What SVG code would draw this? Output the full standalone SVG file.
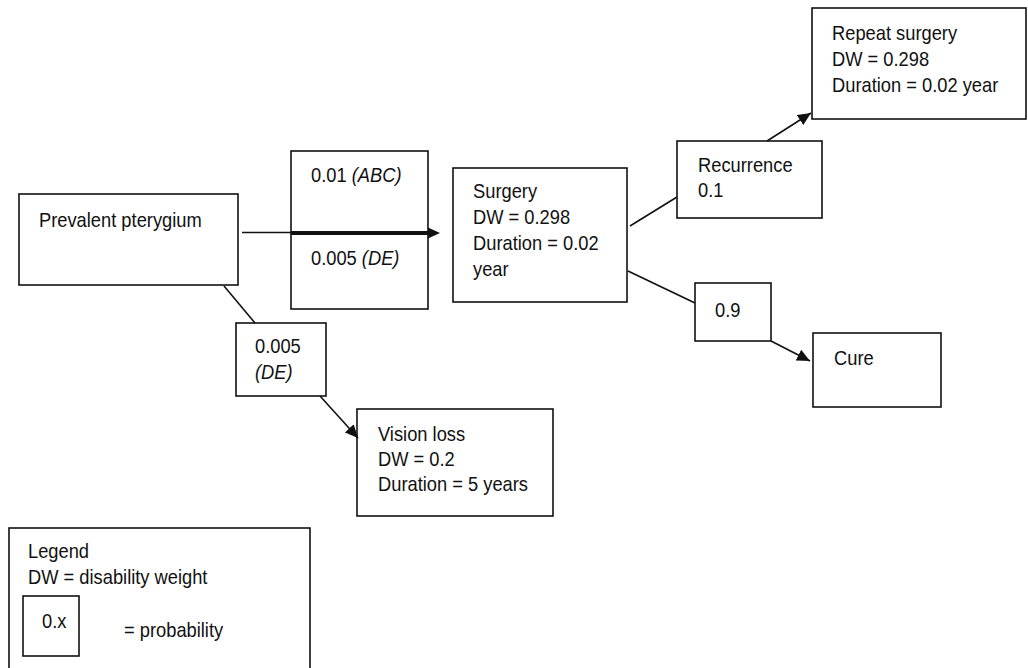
<svg xmlns="http://www.w3.org/2000/svg" width="1028" height="668" viewBox="0 0 1028 668">
  <style>
    .box { fill: #ffffff; stroke: #111111; stroke-width: 1.6; }
    .t { font-family: "Liberation Sans", Arial, sans-serif; font-size: 20.5px; fill: #111111; }
    .i { font-style: italic; }
    .ln { stroke: #111111; stroke-width: 1.6; fill: none; }
  </style>
  <defs>
    <marker id="arrow" markerUnits="userSpaceOnUse" markerWidth="14" markerHeight="12" refX="13" refY="6" orient="auto">
      <path d="M0,0 L13,6 L0,12 Z" fill="#111111"/>
    </marker>
  </defs>

  <rect width="1028" height="668" fill="#ffffff"/>

  <g id="prevalent">
    <rect class="box" x="19" y="194" width="219" height="91"/>
    <text class="t" transform="translate(39,227) scale(0.893,1)">Prevalent pterygium</text>
  </g>

  <g id="p-surgery">
    <rect class="box" x="291" y="151" width="137" height="158"/>
    <text class="t" transform="translate(311,182) scale(0.893,1)">0.01 <tspan class="i">(ABC)</tspan></text>
    <text class="t" transform="translate(311,265) scale(0.893,1)">0.005 <tspan class="i">(DE)</tspan></text>
  </g>

  <g id="surgery">
    <rect class="box" x="453" y="168" width="174" height="134"/>
    <text class="t" transform="translate(473,198) scale(0.893,1)"><tspan x="0" y="0">Surgery</tspan><tspan x="0" y="26">DW = 0.298</tspan><tspan x="0" y="52">Duration = 0.02</tspan><tspan x="0" y="78">year</tspan></text>
  </g>

  <g id="recurrence">
    <rect class="box" x="677" y="141" width="145" height="77"/>
    <text class="t" transform="translate(698,172) scale(0.893,1)"><tspan x="0" y="0">Recurrence</tspan><tspan x="0" y="25">0.1</tspan></text>
  </g>

  <g id="repeat-surgery">
    <rect class="box" x="812" y="8" width="214" height="111"/>
    <text class="t" transform="translate(832,40) scale(0.893,1)"><tspan x="0" y="0">Repeat surgery</tspan><tspan x="0" y="26">DW = 0.298</tspan><tspan x="0" y="52">Duration = 0.02 year</tspan></text>
  </g>

  <g id="p-cure">
    <rect class="box" x="695" y="283" width="76" height="58"/>
    <text class="t" transform="translate(715,317) scale(0.893,1)">0.9</text>
  </g>

  <g id="cure">
    <rect class="box" x="813" y="333" width="128" height="74"/>
    <text class="t" transform="translate(834,365) scale(0.893,1)">Cure</text>
  </g>

  <g id="p-vision">
    <rect class="box" x="236" y="323" width="90" height="73"/>
    <text class="t" transform="translate(255,353) scale(0.893,1)"><tspan x="0" y="0">0.005</tspan><tspan class="i" x="0" y="26">(DE)</tspan></text>
  </g>

  <g id="vision-loss">
    <rect class="box" x="357" y="409" width="196" height="107"/>
    <text class="t" transform="translate(378,441) scale(0.893,1)"><tspan x="0" y="0">Vision loss</tspan><tspan x="0" y="25">DW = 0.2</tspan><tspan x="0" y="50">Duration = 5 years</tspan></text>
  </g>

  <g id="legend">
    <rect class="box" x="9" y="528" width="301" height="150"/>
    <text class="t" transform="translate(28,558) scale(0.893,1)"><tspan x="0" y="0">Legend</tspan><tspan x="0" y="26">DW = disability weight</tspan></text>
    <rect class="box" x="23" y="596" width="56" height="60"/>
    <text class="t" transform="translate(42,628) scale(0.893,1)">0.x</text>
    <text class="t" transform="translate(124,637) scale(0.893,1)">= probability</text>
  </g>

  <!-- connectors, drawn last so the main arrow runs across the probability box -->
  <g id="connectors">
    <line class="ln" x1="242" y1="232.5" x2="291" y2="232.5"/>
    <line x1="291" y1="233" x2="430" y2="233" stroke="#111111" stroke-width="4"/>
    <polygon points="428,227.5 440,233 428,238.5" fill="#111111"/>
    <line class="ln" x1="224" y1="286" x2="255" y2="323"/>
    <line class="ln" x1="320" y1="396" x2="358" y2="438" marker-end="url(#arrow)"/>
    <line class="ln" x1="630" y1="226" x2="677" y2="197"/>
    <line class="ln" x1="767" y1="141" x2="811" y2="113" marker-end="url(#arrow)"/>
    <line class="ln" x1="628" y1="271" x2="695" y2="303"/>
    <line class="ln" x1="771" y1="341" x2="810" y2="361" marker-end="url(#arrow)"/>
  </g>
</svg>
